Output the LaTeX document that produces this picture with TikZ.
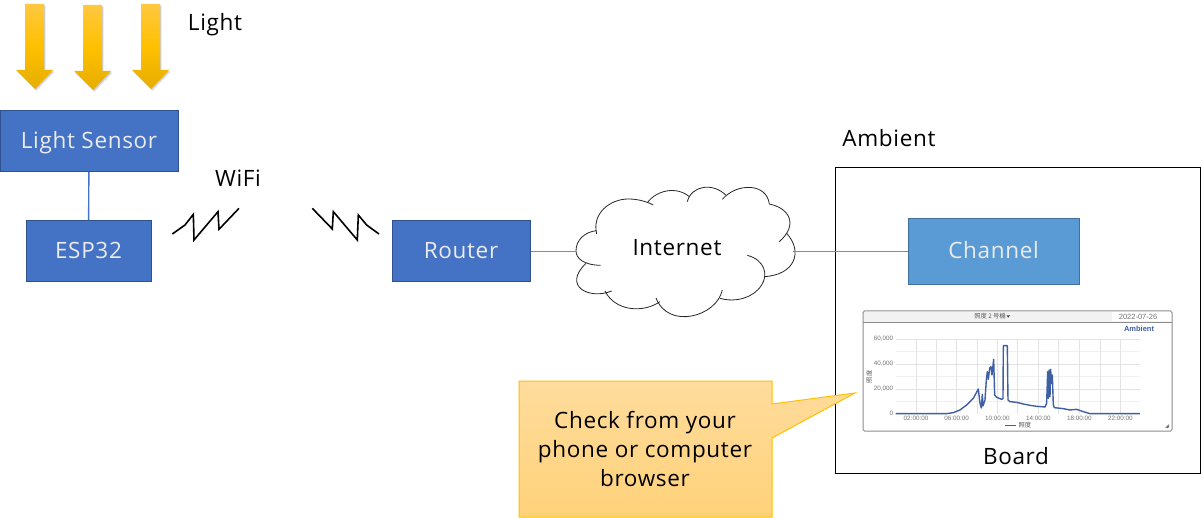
\documentclass[tikz,border=0pt]{standalone}
\usepackage{fontspec}
\setmainfont[LetterSpace=3]{Open Sans}
\newfontfamily\chartfont{Liberation Sans}
\newfontfamily\cjkfont{Noto Sans CJK JP}
\usetikzlibrary{positioning}
\definecolor{boxblue}{HTML}{4472C4}
\definecolor{boxedge}{HTML}{2F528F}
\definecolor{chanblue}{HTML}{5B9BD5}
\definecolor{chanedge}{HTML}{41719C}
\definecolor{amber}{HTML}{FFC000}
\definecolor{sunTop}{HTML}{FFC840}
\definecolor{sunBot}{HTML}{E6AD00}
\definecolor{calTop}{HTML}{FFDC9C}
\definecolor{calBot}{HTML}{FFD27A}
\definecolor{linechart}{HTML}{3F5FA5}
\tikzset{
  base/.style={font=\fontsize{22.5}{28}\selectfont, inner sep=0pt, text=black, text height=18pt, text depth=3pt},
  bluebox/.style={base, draw=boxedge, fill=boxblue, line width=1pt, text=white!92!black, minimum height=61pt},
  chanbox/.style={base, draw=chanedge, fill=chanblue, line width=1pt, text=white!92!black, minimum height=66pt, minimum width=171pt},
  link/.style={draw=boxblue, line width=1.4pt},
  linkthin/.style={draw=boxblue!80!white, line width=1.1pt},
  bolt/.style={draw=black, line width=1.6pt, line join=miter},
  cloudarc/.style={draw=black!85, line width=0.8pt},
  sunarrow/.style={top color=sunTop, bottom color=sunBot, middle color=amber, draw=none},
  sunshadow/.style={fill=black, opacity=0.10, draw=none},
  calloutshape/.style={draw=amber, line width=1pt, top color=calTop, bottom color=calBot},
  charttxt/.style={font=\chartfont\fontsize{6.3}{7}\selectfont, text=black!55, inner sep=0pt},
  cjktxt/.style={font=\cjkfont\fontsize{6.3}{7}\selectfont, text=black!65, inner sep=0pt},
  gridmajor/.style={draw=black!11, line width=0.8pt},
  gridminor/.style={draw=black!6, line width=0.6pt},
  plain/.style={base}
}
\newcommand{\sunpath}[2]{(#1+25,#2) -- (#1+44,#2) -- (#1+44,#2+66) -- (#1+53,#2+66) -- (#1+35,#2+85) -- (#1+16,#2+66) -- (#1+25,#2+66) -- cycle}
\begin{document}
\begin{tikzpicture}[x=1pt,y=-1pt]
\useasboundingbox (0,0) rectangle (1201,518);
\fill[white] (0,0) rectangle (1201,518);

% light arrows
\foreach \ax/\ay in {0/4,58/5,116/4}{
  \fill[sunshadow] \sunpath{\ax+1.5}{\ay+2};
  \fill[sunshadow] \sunpath{\ax+0.8}{\ay+1};
  \shade[sunarrow] \sunpath{\ax}{\ay};
}
\node[plain] (light) at (215,23.5) {Light};

% boxes
\node[bluebox, minimum width=178pt] (sensor) at (89,141) {Light Sensor};
\node[bluebox, minimum width=125pt] (esp) at (88.5,251) {ESP32};
\node[bluebox, minimum width=138pt] (router) at (461,251) {Router};
\node[plain] (wifi) at (238,179.5) {WiFi};
\draw[link] (sensor) -- (esp);

% wifi bolts
\begin{scope}[shift={(150,190)},x=0.3333pt,y=-0.3333pt]
  \draw[bolt] (67,132) -- (105,105) -- (130,73) -- (132,150) -- (204,65) -- (207,118) -- (267,55);
  \draw[bolt] (487,55) -- (547,117) -- (550,65) -- (622,150) -- (625,75) -- (650,105) -- (687,132);
\end{scope}

% ambient frame
\node[draw=black, line width=1pt, minimum width=365pt, minimum height=305pt, inner sep=0pt] (ambientbox) at (1017.5,320.5) {};
\node[plain] (ambient) at (889,139.5) {Ambient};
\node[chanbox] (channel) at (993.5,251.5) {Channel};
\node[plain] (board) at (1016,456.5) {Board};

% cloud
\coordinate (cloudleft) at (577,251.5);
\coordinate (cloudright) at (793,251.5);
\begin{scope}[shift={(560,180)},x=0.3333pt,y=-0.3333pt]
  \draw[cloudarc] (122,256) .. controls (70,255) and (48,235) .. (48,212) .. controls (48,180) and (75,155) .. (110,152);
  \draw[cloudarc] (110,162) .. controls (95,100) and (150,57) .. (205,57) .. controls (235,57) and (260,65) .. (280,75);
  \draw[cloudarc] (262,68) .. controls (290,30) and (350,18) .. (388,50);
  \draw[cloudarc] (382,65) .. controls (395,15) and (460,8) .. (497,45);
  \draw[cloudarc] (487,58) .. controls (530,8) and (620,8) .. (628,72);
  \draw[cloudarc] (628,72) .. controls (690,85) and (715,135) .. (658,185);
  \draw[cloudarc] (680,160) .. controls (730,215) and (705,285) .. (612,290);
  \draw[cloudarc] (562,226) .. controls (615,240) and (625,285) .. (605,315) .. controls (580,355) and (525,368) .. (480,355);
  \draw[cloudarc] (487,330) .. controls (470,410) and (325,450) .. (288,354);
  \draw[cloudarc] (300,365) .. controls (250,400) and (165,394) .. (135,333);
  \draw[cloudarc] (155,333) .. controls (90,360) and (5,320) .. (78,250);
\end{scope}
\node[plain] (internet) at (677,248.5) {Internet};
\draw[linkthin] (router.east |- cloudleft) -- (cloudleft);
\draw[linkthin] (cloudright) -- (channel.west |- cloudright);

% chart
\draw[draw=black!45, line width=1pt, rounded corners=1.5pt, fill=white] (863,311) rectangle (1172,431);
\fill[black!5] (864,312) rectangle (1171,322);
\draw[draw=black!45, line width=0.7pt] (863,322) -- (1172,322);
\fill[white] (1112,312) rectangle (1171,321.5);
\node[cjktxt] (charttitle) at (990,316.5) {照度 2 号機};
\fill[black!75] (1006.5,315.5) -- (1010,315.5) -- (1008.2,317.6) -- cycle;
\node[charttxt, font=\chartfont\fontsize{7.5}{8}\selectfont] (chartdate) at (1138,316.5) {2022-07-26};
\node[charttxt, font=\chartfont\bfseries\fontsize{7.5}{8}\selectfont, text=linechart] (chartbrand) at (1139,328.5) {Ambient};
\begin{scope}[shift={(850,300)},x=0.3333pt,y=-0.3333pt]
  \foreach \gy in {154,229,304} \draw[gridminor] (137,\gy) -- (870,\gy);
  \foreach \gy in {117,192,267} \draw[gridmajor] (137,\gy) -- (870,\gy);
  \foreach \gx in {198,260,320,381,442,503,565,626,688,750,811} \draw[gridmajor] (\gx,117) -- (\gx,341);
  \draw[linechart, line width=1.4pt, line join=round]
    (137,341) -- (290,341) -- (310,338) -- (330,330) -- (350,315) -- (370,295) -- (385,267) -- (390,310) -- (394,324)
    -- (397,283) -- (399,318) -- (405,300) -- (409,240) -- (412,215) -- (415,238) -- (419,205) -- (423,200) -- (426,225)
    -- (431,178) -- (434,285) -- (440,292) -- (455,298) -- (459,296) -- (460,137) -- (472,137) -- (474,300) -- (480,305)
    -- (500,307) -- (520,312) -- (540,316) -- (560,319) -- (585,321) -- (590,310) -- (593,215) -- (595,295) -- (597,210)
    -- (600,290) -- (602,208) -- (604,250) -- (607,225) -- (610,315) -- (613,323) -- (640,326) -- (660,330) -- (680,328)
    -- (700,335) -- (720,341) -- (870,341);
  \node[charttxt, anchor=east] (y60) at (130,117) {60,000};
  \node[charttxt, anchor=east] (y40) at (130,192) {40,000};
  \node[charttxt, anchor=east] (y20) at (130,267) {20,000};
  \node[charttxt, anchor=east] (y0) at (130,341) {0};
  \node[charttxt] (x02) at (198,356) {02:00:00};
  \node[charttxt] (x06) at (320,356) {06:00:00};
  \node[charttxt] (x10) at (442,356) {10:00:00};
  \node[charttxt] (x14) at (565,356) {14:00:00};
  \node[charttxt] (x18) at (688,356) {18:00:00};
  \node[charttxt] (x22) at (811,356) {22:00:00};
  \node[cjktxt, rotate=90] (ylabel) at (58,231) {照度};
  \draw[linechart, line width=1.1pt] (465,376) -- (498,376);
  \node[cjktxt] (legend) at (525,376) {照度};
  \draw[black!60, line width=0.8pt] (947,384) -- (957,374) (952,384) -- (957,379);
\end{scope}

% callout
\draw[calloutshape] (519,381) -- (772,381) -- (772,404) -- (855,393) -- (772,438) -- (772,517) -- (519,517) -- cycle;
\node[inner sep=0pt, align=center, text=black, font=\fontsize{22.5}{29.3}\selectfont] (calltext) at (645,449) {Check from your\\phone or computer\\browser};
\end{tikzpicture}
\end{document}
